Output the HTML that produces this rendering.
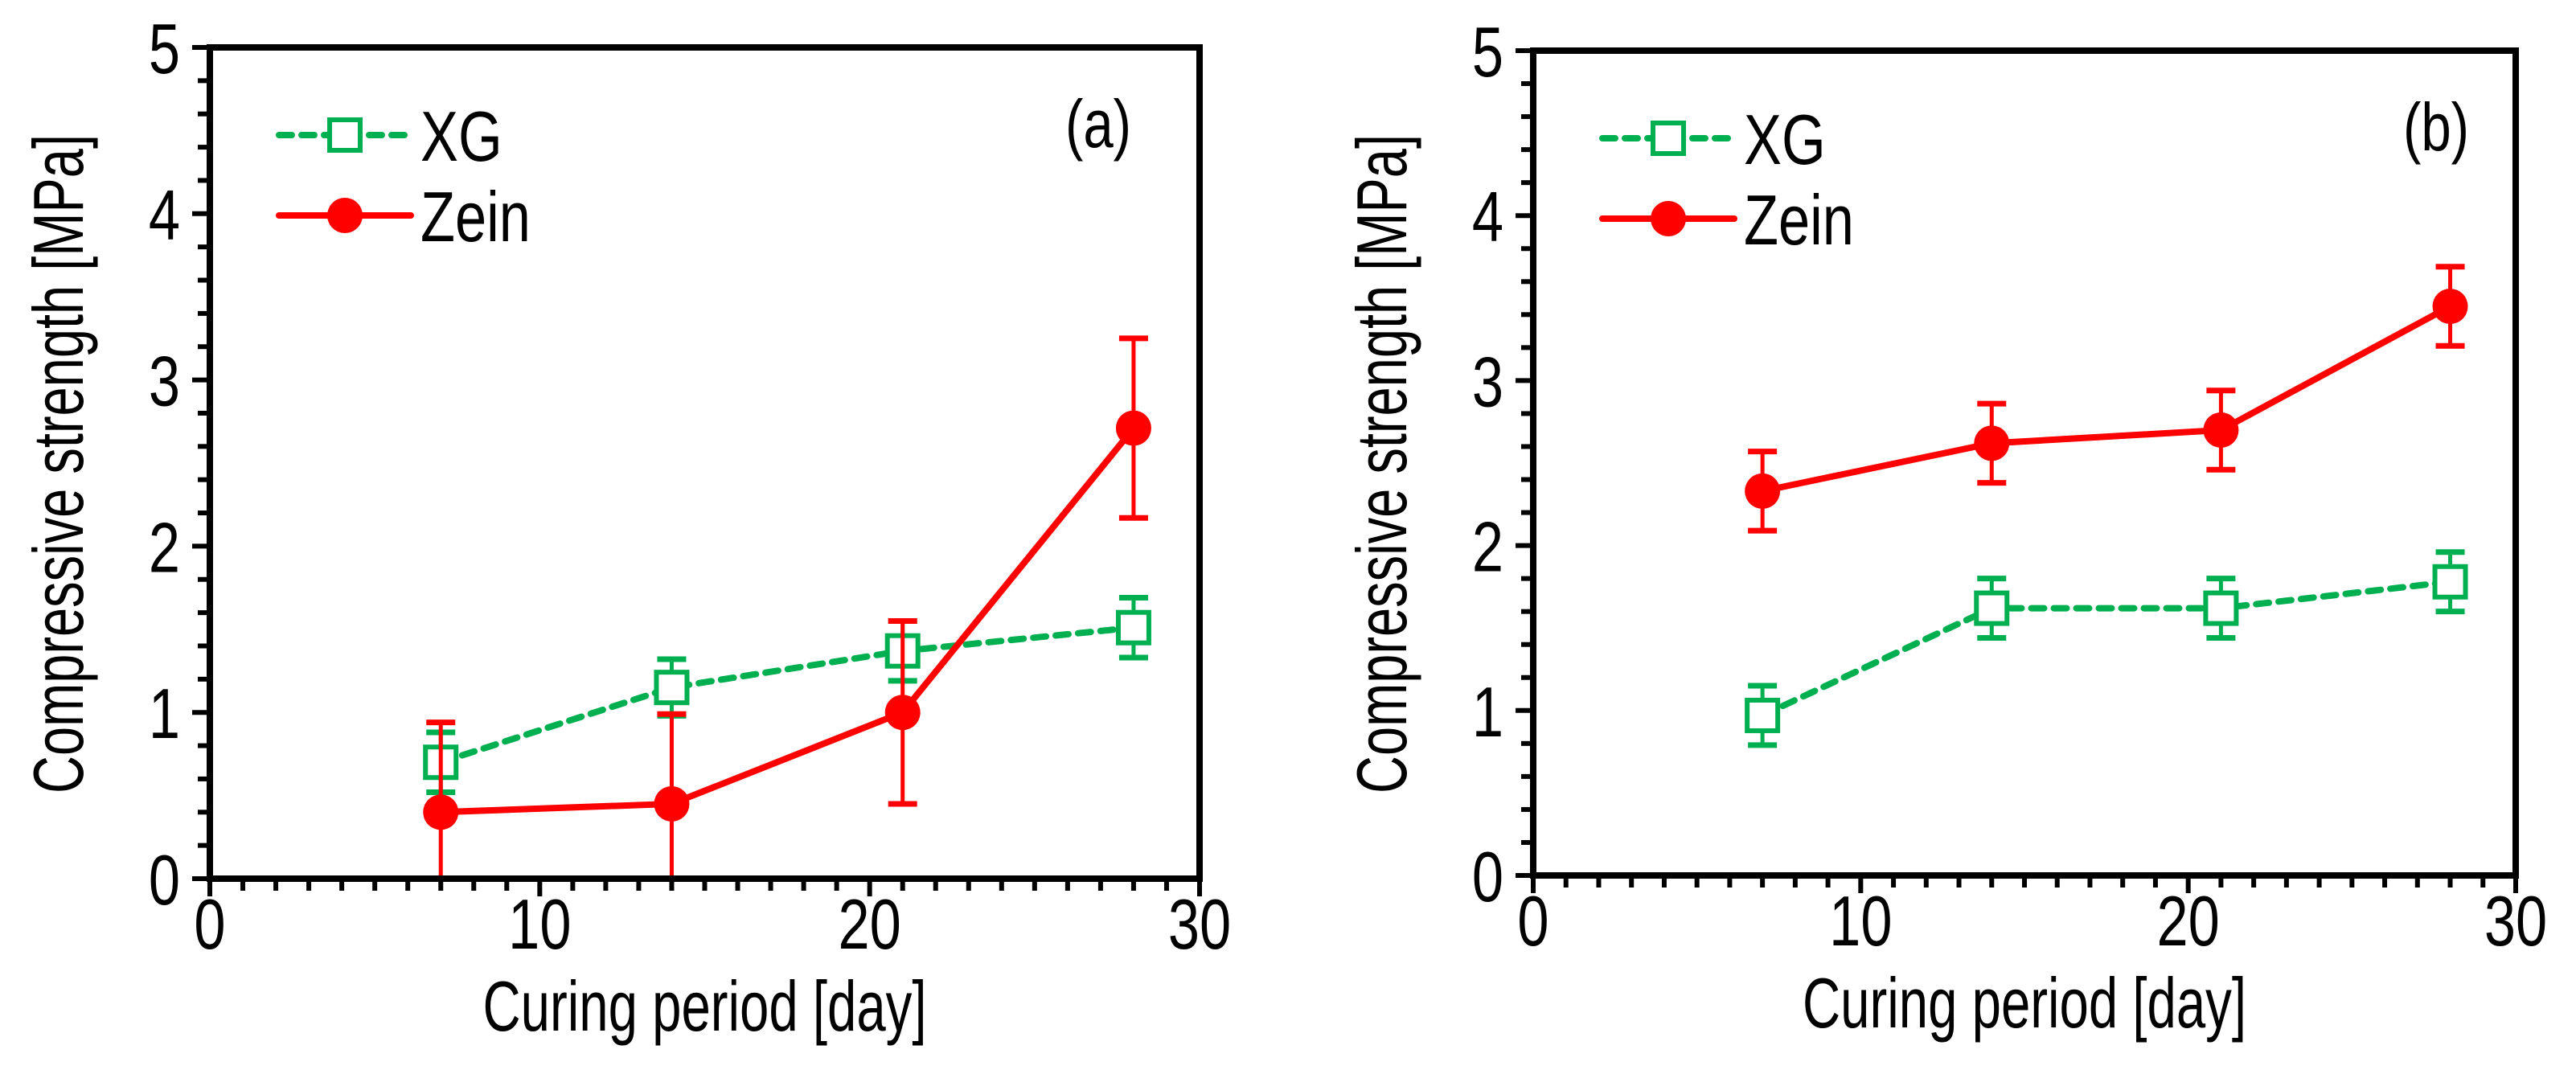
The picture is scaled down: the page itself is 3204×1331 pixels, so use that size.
<!DOCTYPE html>
<html><head><meta charset="utf-8"><style>
html,body{margin:0;padding:0;background:#fff;}
svg{display:block;font-family:"Liberation Sans",Arial,sans-serif;}
</style></head><body>
<svg id="chart" width="3204" height="1331" viewBox="0 0 3204 1331" xmlns="http://www.w3.org/2000/svg"></svg>
<script>
const days = [7, 14, 21, 28];
const xgA = [0.70, 1.15, 1.37, 1.51];
const xgAErr = [0.18, 0.17, 0.18, 0.18];
const zeinA = [0.40, 0.45, 1.00, 2.71];
const zeinAErr = [0.54, 0.54, 0.55, 0.54];
const xgB = [0.97, 1.62, 1.62, 1.78];
const xgBErr = [0.18, 0.18, 0.18, 0.18];
const zeinB = [2.33, 2.62, 2.70, 3.45];
const zeinBErr = [0.24, 0.24, 0.24, 0.24];
const xTicks = [0, 10, 20, 30];
const yTicks = [0, 1, 2, 3, 4, 5];
const panelLabels = ['(a)', '(b)'];

const NS = 'http://www.w3.org/2000/svg';
const svg = document.getElementById('chart');
function mk(tag, attrs, parent) {
  const e = document.createElementNS(NS, tag);
  for (const k in attrs) e.setAttribute(k, attrs[k]);
  (parent || svg).appendChild(e);
  return e;
}
function txt(parent, x, y, s, size, anchor, sx) {
  const t = mk('text', {x: 0, y: 0, 'font-size': size, 'text-anchor': anchor, transform: `translate(${x},${y}) scale(${sx},1)`}, parent);
  t.textContent = s;
  return t;
}
const GREEN = '#00b050', RED = '#ff0000';
const FS = 88, SX = 0.8;

function panel(p) {
  const g = mk('g', {});
  
  
  const X = v => p.x0 + (v / 30) * (p.x1 - p.x0);
  const Y = v => p.y1 - (v / 5) * (p.y1 - p.y0);
  const clipId = 'clip' + p.id;
  const cp = mk('clipPath', {id: clipId}, g);
  mk('rect', {x: p.x0, y: p.y0, width: p.x1 - p.x0, height: p.y1 - p.y0}, cp);

  for (let d = 0; d <= 30; d++) {
    const major = d % 10 === 0;
    const t = mk('line', {x1: X(d), x2: X(d), y1: p.y1, y2: p.y1 + (major ? 22 : 15), stroke: '#000', 'stroke-width': 6}, g);
    
    
  }
  for (let i = 0; i <= 25; i++) {
    const v = i * 0.2;
    const t = mk('line', {x1: p.x0 - (i % 5 === 0 ? 22 : 15), x2: p.x0, y1: Y(v), y2: Y(v), stroke: '#000', 'stroke-width': 6}, g);
    
    
  }
  xTicks.forEach(v => {
    const t = txt(g, X(v), 1180 + (p.y1 - 1093), String(v), FS, 'middle', SX);
    
    
  });
  yTicks.forEach(v => {
    const t = txt(g, p.x0 - 37, Y(v) + 32, String(v), FS, 'end', SX);
    
    
  });
  const xt = mk('text', {x: (p.x0 + p.x1) / 2, y: p.y1 + 189, 'font-size': FS, 'text-anchor': 'middle', textLength: 552, lengthAdjust: 'spacingAndGlyphs'}, g);
  xt.textContent = 'Curing period [day]';
  
  
  const yt = mk('text', {x: 0, y: 0, 'font-size': FS, 'text-anchor': 'middle', textLength: 820, lengthAdjust: 'spacingAndGlyphs', transform: `translate(${p.x0 - 158},577) rotate(-90)`}, g);
  yt.textContent = 'Compressive strength [MPa]';
  
  

  function series(vals, errs, color, dashed, square, name) {
    const sg = mk('g', {}, g);
    
    
    const eg = mk('g', {'clip-path': `url(#${clipId})`}, sg);
    vals.forEach((v, i) => {
      const x = X(days[i]);
      const e = mk('line', {x1: x, x2: x, y1: Y(v - errs[i]), y2: Y(v + errs[i]), stroke: color, 'stroke-width': 5}, eg);
      
      
      [v - errs[i], v + errs[i]].forEach(w => {
        const c = mk('line', {x1: x - 18, x2: x + 18, y1: Y(w), y2: Y(w), stroke: color, 'stroke-width': 7}, eg);
        
        
      });
    });
    const pts = vals.map((v, i) => X(days[i]) + ',' + Y(v)).join(' ');
    const l = mk('polyline', {points: pts, fill: 'none', stroke: color, 'stroke-width': 8, 'stroke-dasharray': dashed ? '16,12' : 'none', 'stroke-linecap': dashed ? 'round' : 'butt'}, sg);
    
    
    vals.forEach((v, i) => {
      const x = X(days[i]), y = Y(v);
      let m;
      if (square) m = mk('rect', {x: x - 19, y: y - 19, width: 38, height: 38, fill: '#fff', stroke: color, 'stroke-width': 6}, sg);
      else m = mk('circle', {cx: x, cy: y, r: 22, fill: color}, sg);
      
      
    });
  }
  series(p.xg, p.xgErr, GREEN, true, true, 'xg');
  series(p.zein, p.zeinErr, RED, false, false, 'zein');

  const frame = mk('rect', {x: p.x0, y: p.y0, width: p.x1 - p.x0, height: p.y1 - p.y0, fill: 'none', stroke: '#000', 'stroke-width': 8}, g);
  
  

  const lg = mk('g', {}, g);
  
  
  const lx0 = p.x0 + 86, lx1 = p.x0 + 250, lm = (lx0 + lx1) / 2;
  const ly1 = p.y0 + 109, ly2 = p.y0 + 209;
  const l1 = mk('line', {x1: lx0, x2: lx1, y1: ly1, y2: ly1, stroke: GREEN, 'stroke-width': 8, 'stroke-dasharray': '16,12', 'stroke-linecap': 'round'}, lg);
  
  
  const r1 = mk('rect', {x: lm - 19, y: ly1 - 19, width: 38, height: 38, fill: '#fff', stroke: GREEN, 'stroke-width': 6}, lg);
  
  
  const t1 = txt(lg, p.x0 + 262, ly1 + 32, 'XG', FS, 'start', SX);
  
  
  const l2 = mk('line', {x1: lx0, x2: lx1, y1: ly2, y2: ly2, stroke: RED, 'stroke-width': 8, 'stroke-linecap': 'round'}, lg);
  
  
  const c2 = mk('circle', {cx: lm, cy: ly2, r: 22, fill: RED}, lg);
  
  
  const t2 = txt(lg, p.x0 + 262, ly2 + 32, 'Zein', FS, 'start', SX);
  
  

  const pl = txt(g, p.labelX, p.y0 + 124, p.label, 84, 'middle', SX);
  
  
}

panel({id: 'a', x0: 261, x1: 1492, y0: 59, y1: 1093, xg: xgA, xgErr: xgAErr, zein: zeinA, zeinErr: zeinAErr, label: panelLabels[0], labelX: 1366});
panel({id: 'b', x0: 1907, x1: 3129, y0: 63, y1: 1089, xg: xgB, xgErr: xgBErr, zein: zeinB, zeinErr: zeinBErr, label: panelLabels[1], labelX: 3030});
</script>
</body></html>
